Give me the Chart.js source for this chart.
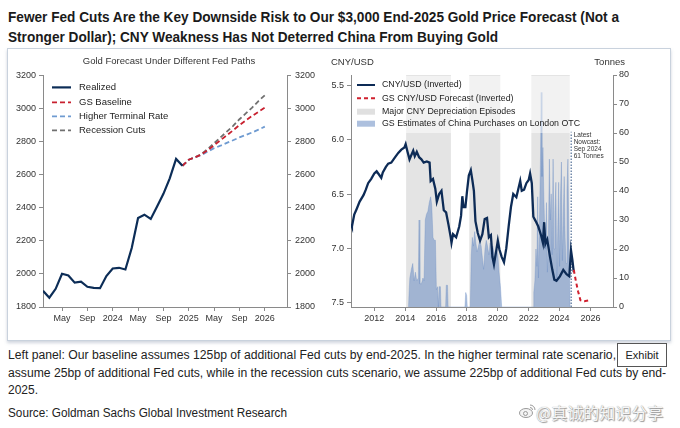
<!DOCTYPE html>
<html>
<head>
<meta charset="utf-8">
<script src="https://cdn.jsdelivr.net/npm/chart.js@4.4.1/dist/chart.umd.min.js"></script>
<style>
  body { margin: 0; width: 680px; height: 428px; background: #fff; overflow: hidden; position: relative;
         font-family: "Liberation Sans Narrow", "Liberation Sans", Arial, sans-serif; color: #1a1a1a; }
  .title { position: absolute; left: 8px; font-weight: bold; font-size: 15px; line-height: 20px; white-space: nowrap;
           transform-origin: 0 50%; }
  .panel { position: absolute; left: 7px; top: 48px; width: 662px; height: 291px; border: 1px solid #c9d2dd;
           box-shadow: 0 2px 3px rgba(120, 135, 160, 0.35); }
  canvas { position: absolute; top: 49px; }
  #left { left: 8px; }
  #right { left: 330px; }
  .note { position: absolute; left: 8px; font-size: 12.5px; line-height: 18px; white-space: nowrap; color: #222;
          transform-origin: 0 50%; }
  .exhibit { position: absolute; left: 617px; top: 343px; width: 48px; height: 22px; border: 1px solid #555;
             background: #fff; font-size: 11px; line-height: 22px; text-align: center; color: #222; }
  .wm { position: absolute; left: 536px; top: 402px; font-family: "Noto Sans CJK SC", sans-serif; font-size: 16px;
        line-height: 20px; color: #f6f6f6; text-shadow: 0 0 1px #8a8a8a, 1px 1px 1px #9a9a9a; white-space: nowrap; }
  .logo { position: absolute; left: 519px; top: 403px; }
</style>
</head>
<body>
<div class="title" data-w="611" style="top:7px">Fewer Fed Cuts Are the Key Downside Risk to Our $3,000 End-2025 Gold Price Forecast (Not a</div>
<div class="title" data-w="490" style="top:27px">Stronger Dollar); CNY Weakness Has Not Deterred China From Buying Gold</div>
<div class="panel"></div>
<canvas id="left" width="322" height="288"></canvas>
<canvas id="right" width="338" height="288"></canvas>
<div class="note" data-w="627" style="top:346px">Left panel: Our baseline assumes 125bp of additional Fed cuts by end-2025. In the higher terminal rate scenario, we</div>
<div class="note" data-w="658" style="top:364px">assume 25bp of additional Fed cuts, while in the recession cuts scenario, we assume 225bp of additional Fed cuts by end-</div>
<div class="note" data-w="30" style="top:381px">2025.</div>
<div class="note" data-w="279" style="top:404px">Source: Goldman Sachs Global Investment Research</div>
<div class="exhibit">Exhibit</div>
<svg class="logo" width="17" height="16" viewBox="0 0 17 16">
  <ellipse cx="7" cy="10" rx="6.5" ry="4.5" fill="#f4f4f4" stroke="#9a9a9a" stroke-width="1"/>
  <circle cx="6.5" cy="10.5" r="2" fill="none" stroke="#9a9a9a" stroke-width="1"/>
  <path d="M11 2 A5 5 0 0 1 16 7 M11 4.5 A2.5 2.5 0 0 1 13.5 7" fill="none" stroke="#9a9a9a" stroke-width="1"/>
</svg>
<div class="wm">@真诚的知识分享</div>
<script>
// left panel: gold price, one value per month, month 0 = Feb 2023
var goldRealized = [1898, 1856, 1910, 2001, 1991, 1947, 1953, 1922, 1916, 1914, 1987,
  2033, 2037, 2027, 2157, 2338, 2358, 2332, 2408, 2484, 2578, 2695, 2654];
var forecastStart = 22; // Dec 2024
var goldBaseline = [2654, 2690, 2705, 2722, 2748, 2778, 2808, 2838, 2868, 2900, 2928, 2955, 2980, 3005];
var goldHigherRate = [2654, 2690, 2705, 2718, 2740, 2760, 2775, 2792, 2808, 2825, 2840, 2855, 2872, 2890];
var goldRecession = [2654, 2690, 2705, 2725, 2755, 2790, 2825, 2860, 2895, 2935, 2970, 3005, 3045, 3080];
var goldTickMonths = [3, 7, 11, 15, 19, 23, 27, 31, 35];
var goldTickLabels = ["May", "Sep", "2024", "May", "Sep", "2025", "May", "Sep", "2026"];

// right panel: CNY per USD (decimal years)
var cnyYears = [2010.50, 2010.55, 2010.70, 2010.85, 2011.05, 2011.30, 2011.45, 2011.60, 2011.80, 2012.00,
  2012.15, 2012.30, 2012.45, 2012.55, 2012.75, 2012.90, 2013.10, 2013.35, 2013.55, 2013.75, 2013.95,
  2014.03, 2014.15, 2014.28, 2014.40, 2014.52, 2014.62, 2014.75, 2014.90, 2015.05, 2015.20, 2015.40,
  2015.58, 2015.65, 2015.80, 2015.95, 2016.05, 2016.20, 2016.35, 2016.50, 2016.65, 2016.80, 2016.95,
  2017.00, 2017.10, 2017.30, 2017.50, 2017.62, 2017.70, 2017.78, 2017.90, 2018.00, 2018.12, 2018.25,
  2018.35, 2018.45, 2018.55, 2018.70, 2018.85, 2019.00, 2019.15, 2019.30, 2019.42, 2019.55, 2019.65,
  2019.75, 2019.90, 2020.00, 2020.10, 2020.25, 2020.40, 2020.55, 2020.70, 2020.85, 2021.00, 2021.20,
  2021.35, 2021.45, 2021.55, 2021.70, 2021.85, 2022.00, 2022.09, 2022.20, 2022.30, 2022.45, 2022.62,
  2022.80, 2022.92, 2023.00, 2023.08, 2023.20, 2023.38, 2023.53, 2023.66, 2023.80, 2024.02, 2024.24,
  2024.45, 2024.63, 2024.74, 2024.83, 2024.92];
var cnyRates = [6.78, 6.80, 6.69, 6.64, 6.57, 6.51, 6.46, 6.40, 6.36, 6.31,
  6.29, 6.32, 6.35, 6.30, 6.25, 6.22, 6.21, 6.16, 6.12, 6.09, 6.07,
  6.04, 6.11, 6.18, 6.14, 6.10, 6.15, 6.11, 6.16, 6.18, 6.21, 6.20,
  6.21, 6.38, 6.36, 6.45, 6.57, 6.50, 6.47, 6.65, 6.67, 6.78, 6.90,
  6.95, 6.87, 6.90, 6.80, 6.70, 6.52, 6.62, 6.62, 6.48, 6.33, 6.28,
  6.37, 6.47, 6.75, 6.86, 6.93, 6.87, 6.73, 6.72, 6.90, 6.88, 7.08,
  7.15, 7.02, 6.93, 7.01, 7.08, 7.13, 7.00, 6.80, 6.62, 6.50, 6.53,
  6.44, 6.38, 6.47, 6.46, 6.40, 6.37, 6.31, 6.40, 6.71, 6.75, 6.80,
  6.88, 6.95, 6.76, 6.96, 6.92, 7.08, 7.20, 7.29, 7.30, 7.26, 7.20,
  7.24, 7.26, 7.02, 7.11, 7.22];
var fcYears = [2024.92, 2025.05, 2025.20, 2025.35, 2025.60, 2025.95];
var fcRates = [7.20, 7.30, 7.40, 7.48, 7.49, 7.48];

// GS estimates of China purchases on London OTC, tonnes
var buyYears = [2014.21, 2014.30, 2014.40, 2014.49, 2014.58, 2014.66, 2014.75, 2014.85, 2014.90, 2014.95,
  2015.05, 2015.15, 2015.22, 2015.30, 2015.38, 2015.47, 2015.56, 2015.65, 2015.72, 2015.80, 2015.88,
  2015.96, 2016.02, 2016.10, 2016.15, 2016.20, 2016.28, 2016.32, 2016.62, 2016.66, 2016.74, 2016.78,
  2017.87, 2017.92, 2017.98, 2018.02, 2018.22, 2018.28, 2018.35, 2018.42, 2018.50, 2018.58, 2018.66,
  2018.75, 2018.83, 2018.92, 2019.00, 2019.08, 2019.17, 2019.25, 2019.33, 2019.42, 2019.50, 2019.58,
  2019.67, 2019.75, 2019.83, 2019.92, 2020.00, 2020.08, 2020.17, 2020.25,
  2022.28, 2022.33, 2022.40, 2022.47, 2022.53, 2022.58, 2022.63, 2022.70, 2022.76, 2022.81, 2022.86,
  2022.92, 2022.98, 2023.03, 2023.09, 2023.15, 2023.21, 2023.28, 2023.34, 2023.40, 2023.46, 2023.52,
  2023.58, 2023.64, 2023.70, 2023.76, 2023.82, 2023.88, 2023.94, 2024.00, 2024.06, 2024.12, 2024.18,
  2024.24, 2024.30, 2024.36, 2024.42, 2024.48, 2024.54, 2024.60, 2024.65, 2024.68];
var buyTonnes = [0, 10, 13, 15, 9, 12, 9, 10, 30, 8,
  8, 10, 9, 30, 32, 33, 36, 38, 35, 24, 23,
  23, 6, 7, 0, 7, 7, 0, 0, 7.5, 7.5, 0,
  0, 5, 4, 0, 0, 18, 24, 21, 26, 22, 19,
  21, 23, 21, 17, 13, 20, 23, 21, 18, 22, 17,
  21, 19, 16, 20, 18, 12, 7, 0,
  0, 5, 9, 20, 14, 38, 10, 30, 50, 74, 45,
  55, 38, 28, 20, 36, 12, 25, 51, 30, 39, 18,
  51, 20, 33, 43, 10, 26, 43, 14, 38, 50, 16,
  32, 45, 24, 15, 40, 51, 24, 10, 0];
var nowcastYear = 2024.75;
var nowcastTonnes = 61;
var nowcastNote = ["Latest", "Nowcast:", "Sep 2024", "61 Tonnes"];

// major CNY depreciation episodes
var bandStarts = [2014.06, 2018.15, 2022.17];
var bandEnds = [2016.96, 2020.16, 2024.66];

var cnyTicks = [5.5, 6.0, 6.5, 7.0, 7.5];
var yearTicks = [2012, 2014, 2016, 2018, 2020, 2022, 2024, 2026];

var axisGray = "#8a8a8a";
var labelFont = { family: "'Liberation Sans', Arial, sans-serif", size: 9 };

// squeeze the text lines to the widths of the reference
document.querySelectorAll("[data-w]").forEach(function (el) {
  var w = el.getBoundingClientRect().width;
  el.style.transform = "scaleX(" + (Number(el.dataset.w) / w) + ")";
});

function pts(xs, ys) {
  return ys.map(function (v, i) { return { x: xs[i], y: v }; });
}
function monthly(values, start) {
  return values.map(function (v, i) { return { x: start + i, y: v }; });
}

function legendPlugin(items, dx, rows, handleW, textDx, fontSize, frame) {
  return {
    id: "customLegend",
    afterDatasetsDraw: function (chart) {
      var ctx = chart.ctx, a = chart.chartArea;
      ctx.save();
      if (frame) {
        ctx.fillStyle = "rgba(255,255,255,0.5)";
        ctx.fillRect(a.left + 1, a.top + 1, frame.w, frame.h);
      }
      ctx.font = fontSize + "px 'Liberation Sans', Arial, sans-serif";
      ctx.textBaseline = "middle";
      items.forEach(function (it, i) {
        var y = a.top + rows[i];
        var x = a.left + dx;
        if (it.kind === "line") {
          ctx.strokeStyle = it.color;
          ctx.lineWidth = it.width;
          ctx.setLineDash(it.dash);
          ctx.beginPath();
          ctx.moveTo(x, y);
          ctx.lineTo(x + handleW, y);
          ctx.stroke();
          ctx.setLineDash([]);
        } else {
          ctx.fillStyle = it.color;
          ctx.fillRect(x, y - 3, handleW, 6);
        }
        ctx.fillStyle = "#222";
        ctx.fillText(it.label, a.left + textDx, y);
      });
      ctx.restore();
    }
  };
}

// ---- left chart ----
new Chart(document.getElementById("left").getContext("2d"), {
  type: "line",
  data: {
    datasets: [
      { label: "Realized", data: monthly(goldRealized, 0), borderColor: "#0c2d57", borderWidth: 2.2,
        pointRadius: 0, tension: 0 },
      { label: "GS Baseline", data: monthly(goldBaseline, forecastStart), borderColor: "#c8202f",
        borderDash: [5, 3], borderWidth: 1.8, pointRadius: 0 },
      { label: "Higher Terminal Rate", data: monthly(goldHigherRate, forecastStart), borderColor: "#6f9bd1",
        borderDash: [5, 3], borderWidth: 1.8, pointRadius: 0 },
      { label: "Recession Cuts", data: monthly(goldRecession, forecastStart), borderColor: "#707070",
        borderDash: [5, 3], borderWidth: 1.8, pointRadius: 0 }
    ]
  },
  options: {
    responsive: false,
    animation: false,
    layout: { padding: 0 },
    plugins: {
      legend: { display: false },
      tooltip: { enabled: false },
      title: { display: true, text: "Gold Forecast Under Different Fed Paths", color: "#333",
        font: { family: "'Liberation Sans', Arial, sans-serif", size: 9.5, weight: "normal" },
        padding: { top: 7, bottom: 8 } }
    },
    scales: {
      x: {
        type: "linear", min: 0, max: 38.5,
        grid: { drawOnChartArea: false, tickLength: 4, color: axisGray },
        border: { color: axisGray },
        ticks: { font: labelFont, color: "#333", padding: 2, maxRotation: 0, autoSkip: false,
          callback: function (v, i) { return goldTickLabels[i]; } },
        afterBuildTicks: function (s) { s.ticks = goldTickMonths.map(function (m) { return { value: m }; }); },
        afterFit: function (s) { s.height = 30; }
      },
      y: {
        position: "left", min: 1800, max: 3200,
        grid: { drawOnChartArea: false, tickLength: 4, color: axisGray },
        border: { color: axisGray },
        ticks: { stepSize: 200, font: labelFont, color: "#333", padding: 3,
          callback: function (v) { return String(v); } },
        afterFit: function (s) { s.width = 35; }
      },
      y2: {
        position: "right", min: 1800, max: 3200,
        grid: { drawOnChartArea: false, tickLength: 4, color: axisGray },
        border: { color: axisGray },
        ticks: { stepSize: 200, font: labelFont, color: "#333", padding: 4,
          callback: function (v) { return String(v); } },
        afterFit: function (s) { s.width = 43; }
      }
    }
  },
  plugins: [legendPlugin([
    { label: "Realized", kind: "line", color: "#0c2d57", width: 2.2, dash: [] },
    { label: "GS Baseline", kind: "line", color: "#c8202f", width: 1.8, dash: [5, 3] },
    { label: "Higher Terminal Rate", kind: "line", color: "#6f9bd1", width: 1.8, dash: [5, 3] },
    { label: "Recession Cuts", kind: "line", color: "#707070", width: 1.8, dash: [5, 3] }
  ], 9, [12, 27, 41, 55], 19, 36, 9.5)]
});

// ---- right chart ----
var bandPlugin = {
  id: "bands",
  beforeDatasetsDraw: function (chart) {
    var x = chart.scales.x, a = chart.chartArea, ctx = chart.ctx;
    ctx.save();
    ctx.fillStyle = "#e4e4e4";
    for (var i = 0; i < bandStarts.length; i++) {
      var x0 = x.getPixelForValue(bandStarts[i]);
      var x1 = x.getPixelForValue(bandEnds[i]);
      ctx.fillRect(x0, a.top, x1 - x0, a.bottom - a.top);
    }
    ctx.restore();
  }
};

var textPlugin = {
  id: "texts",
  afterDraw: function (chart) {
    var ctx = chart.ctx;
    ctx.save();
    ctx.fillStyle = "#333";
    ctx.font = "9.5px 'Liberation Sans', Arial, sans-serif";
    ctx.textBaseline = "middle";
    ctx.textAlign = "left";
    ctx.fillText("CNY/USD", 1, 13);
    ctx.textAlign = "right";
    ctx.fillText("Tonnes", 295, 13);
    ctx.textAlign = "left";
    ctx.font = "6.5px 'Liberation Sans', Arial, sans-serif";
    var nx = chart.scales.x.getPixelForValue(nowcastYear) + 2.5;
    var ny = chart.scales.y2.getPixelForValue(nowcastTonnes) + 5;
    nowcastNote.forEach(function (t, i) { ctx.fillText(t, nx, ny + i * 7.2); });
    ctx.restore();
  }
};

new Chart(document.getElementById("right").getContext("2d"), {
  type: "line",
  data: {
    datasets: [
      { label: "GS CNY/USD Forecast (Inverted)", data: pts(fcYears, fcRates), yAxisID: "y",
        borderColor: "#d0202e", borderDash: [4, 3], borderWidth: 2, pointRadius: 0, order: 0 },
      { label: "CNY/USD (Inverted)", data: pts(cnyYears, cnyRates), yAxisID: "y",
        borderColor: "#0d2b56", borderWidth: 2.3, pointRadius: 0, order: 1 },
      { label: "Latest Nowcast", data: [{ x: nowcastYear, y: 0 }, { x: nowcastYear, y: nowcastTonnes }],
        yAxisID: "y2", borderColor: "#2d4f80", borderDash: [1.5, 1.5], borderWidth: 1, pointRadius: 0, order: 2 },
      { label: "GS Estimates of China Purchases on London OTC", data: pts(buyYears, buyTonnes), yAxisID: "y2",
        fill: "origin", backgroundColor: "rgba(105,140,195,0.55)", borderColor: "rgba(105,140,195,0.7)",
        borderWidth: 0.5, pointRadius: 0, order: 3 }
    ]
  },
  options: {
    responsive: false,
    animation: false,
    layout: { padding: { top: 26, left: 0, right: 0, bottom: 0 } },
    plugins: { legend: { display: false }, tooltip: { enabled: false } },
    scales: {
      x: {
        type: "linear", min: 2010.49, max: 2027.46,
        grid: { drawOnChartArea: false, tickLength: 4, color: axisGray },
        border: { color: axisGray },
        ticks: { font: labelFont, color: "#333", padding: 2, maxRotation: 0, autoSkip: false,
          callback: function (v) { return String(v); } },
        afterBuildTicks: function (s) { s.ticks = yearTicks.map(function (y) { return { value: y }; }); },
        afterFit: function (s) { s.height = 30; }
      },
      y: {
        position: "left", reverse: true, min: 5.401, max: 7.543,
        grid: { drawOnChartArea: false, tickLength: 4, color: axisGray },
        border: { color: axisGray },
        ticks: { font: labelFont, color: "#333", padding: 3, callback: function (v) { return v.toFixed(1); } },
        afterBuildTicks: function (s) { s.ticks = cnyTicks.map(function (v) { return { value: v }; }); },
        afterFit: function (s) { s.width = 21; }
      },
      y2: {
        position: "right", min: 0, max: 80,
        grid: { drawOnChartArea: false, tickLength: 4, color: axisGray },
        border: { color: axisGray },
        ticks: { stepSize: 10, font: labelFont, color: "#333", padding: 2 },
        afterFit: function (s) { s.width = 55; }
      }
    }
  },
  plugins: [bandPlugin, textPlugin, legendPlugin([
    { label: "CNY/USD (Inverted)", kind: "line", color: "#0d2b56", width: 2, dash: [] },
    { label: "GS CNY/USD Forecast (Inverted)", kind: "line", color: "#d0202e", width: 2, dash: [4, 3] },
    { label: "Major CNY Depreciation Episodes", kind: "box", color: "#e0e0e0" },
    { label: "GS Estimates of China Purchases on London OTC", kind: "box", color: "rgba(105,140,195,0.55)" }
  ], 6, [10, 23.3, 36.7, 48.7], 18, 31, 8.8, { w: 220, h: 57 })]
});
</script>
</body>
</html>
